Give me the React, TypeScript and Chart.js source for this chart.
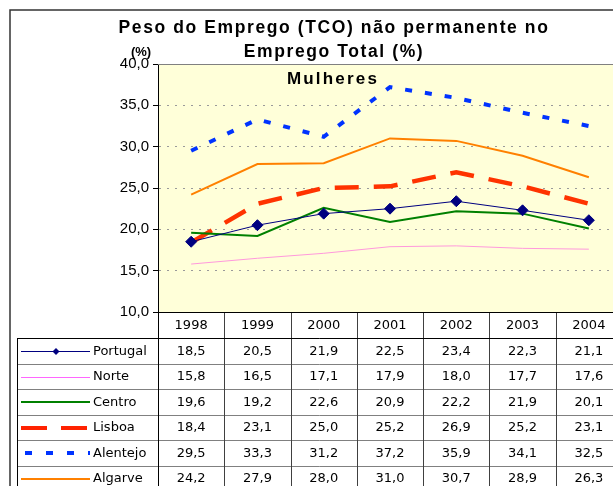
import React, { useEffect, useRef } from "react";
import { Chart, registerables } from "chart.js";

Chart.register(...registerables);

const years = ["1998", "1999", "2000", "2001", "2002", "2003", "2004"];
const portugal = [18.5, 20.5, 21.9, 22.5, 23.4, 22.3, 21.1];
const norte = [15.8, 16.5, 17.1, 17.9, 18.0, 17.7, 17.6];
const centro = [19.6, 19.2, 22.6, 20.9, 22.2, 21.9, 20.1];
const lisboa = [18.4, 23.1, 25.0, 25.2, 26.9, 25.2, 23.1];
const alentejo = [29.5, 33.3, 31.2, 37.2, 35.9, 34.1, 32.5];
const algarve = [24.2, 27.9, 28.0, 31.0, 30.7, 28.9, 26.3];
const seriesNames = ["Portugal", "Norte", "Centro", "Lisboa", "Alentejo", "Algarve"];
const yTicks = [10, 15, 20, 25, 30, 35, 40];
const titleLines = ["Peso do Emprego (TCO) não permanente no", "Emprego Total (%)"];
const unitLabel = "(%)";
const subtitleText = "Mulheres";

const fmt = (v: number) => v.toFixed(1).replace(".", ",");

const seriesStyles = [
  { color: "#000080", width: 1, dash: [] as number[], keyColor: "#000080", keyWidth: 1, keyDash: [] as number[] },
  { color: "#FF99DD", width: 1, dash: [], keyColor: "#FF66FF", keyWidth: 1, keyDash: [] },
  { color: "#008000", width: 2, dash: [], keyColor: "#008000", keyWidth: 2, keyDash: [] },
  { color: "#FF3300", width: 4.5, dash: [24, 15], keyColor: "#FF2200", keyWidth: 4, keyDash: [26, 14] },
  { color: "#0033FF", width: 4, dash: [7, 13], keyColor: "#0033FF", keyWidth: 4, keyDash: [7, 14] },
  { color: "#FF8000", width: 2, dash: [], keyColor: "#FF8000", keyWidth: 2, keyDash: [] },
];

const seriesValues = [portugal, norte, centro, lisboa, alentejo, algarve];

const decorPlugin = {
  id: "decor",
  beforeDraw(chart: any) {
    const { ctx, chartArea, width, height } = chart;
    ctx.save();
    ctx.fillStyle = "#FFFFFF";
    ctx.fillRect(0, 0, width, height);
    ctx.strokeStyle = "#333333";
    ctx.lineWidth = 1.5;
    ctx.strokeRect(10, 10, width + 50, height + 50);
    ctx.fillStyle = "#FFFFD9";
    ctx.fillRect(chartArea.left, chartArea.top, chartArea.right - chartArea.left, chartArea.bottom - chartArea.top);
    ctx.restore();
  },
  afterDraw(chart: any) {
    const { ctx, chartArea } = chart;
    const xs = chart.scales.x;
    const L = chartArea.left;
    const R = chartArea.right;
    const T = chartArea.top;
    const B = chartArea.bottom;
    ctx.save();
    // plot border (top/right)
    ctx.strokeStyle = "#808080";
    ctx.lineWidth = 1;
    ctx.beginPath();
    ctx.moveTo(L, T + 0.5);
    ctx.lineTo(R + 0.5, T + 0.5);
    ctx.lineTo(R + 0.5, B);
    ctx.stroke();

    // titles
    ctx.fillStyle = "#000";
    ctx.textAlign = "center";
    ctx.textBaseline = "alphabetic";
    ctx.font = 'bold 17.5px "Liberation Sans", Arial, sans-serif';
    (ctx as any).letterSpacing = "1.6px";
    ctx.fillText(titleLines[0], 334, 33);
    ctx.fillText(titleLines[1], 334, 57);
    ctx.font = 'bold 17px "Liberation Sans", Arial, sans-serif';
    (ctx as any).letterSpacing = "2.2px";
    ctx.fillText(subtitleText, 333, 83.5);
    ctx.font = 'bold 13px "Liberation Sans", Arial, sans-serif';
    (ctx as any).letterSpacing = "0px";
    ctx.fillText(unitLabel, 141, 55.5);

    // table
    const n = years.length;
    const colW = (R - L) / n;
    const headerTop = B;
    const headerBottom = B + 26;
    const rowH = 25.5;
    const legendLeft = 17.5;
    const tableBottom = headerBottom + rowH * seriesNames.length + 10;

    // row separators (gray)
    ctx.strokeStyle = "#808080";
    ctx.lineWidth = 1;
    for (let r = 1; r <= seriesNames.length; r++) {
      const y = Math.round(headerBottom + r * rowH) + 0.5;
      ctx.beginPath();
      ctx.moveTo(legendLeft, y);
      ctx.lineTo(R, y);
      ctx.stroke();
    }
    // column separators
    ctx.strokeStyle = "#404040";
    for (let i = 1; i <= n; i++) {
      const x = Math.round(L + i * colW) + 0.5;
      ctx.beginPath();
      ctx.moveTo(x, headerTop);
      ctx.lineTo(x, tableBottom);
      ctx.stroke();
    }
    // black lines
    ctx.strokeStyle = "#000";
    ctx.beginPath();
    ctx.moveTo(L, Math.round(headerTop) + 0.5);
    ctx.lineTo(R, Math.round(headerTop) + 0.5);
    ctx.moveTo(legendLeft, Math.round(headerBottom) + 0.5);
    ctx.lineTo(R, Math.round(headerBottom) + 0.5);
    ctx.moveTo(legendLeft, Math.round(headerBottom));
    ctx.lineTo(legendLeft, tableBottom);
    ctx.moveTo(Math.round(L) + 0.5, headerTop);
    ctx.lineTo(Math.round(L) + 0.5, tableBottom);
    ctx.stroke();

    // header text
    ctx.font = '13px "DejaVu Sans", Verdana, sans-serif';
    ctx.textAlign = "center";
    ctx.textBaseline = "middle";
    ctx.fillStyle = "#000";
    years.forEach((yr, i) => {
      ctx.fillText(yr, xs.getPixelForValue(i), (headerTop + headerBottom) / 2 + 0.5);
    });

    // rows
    seriesNames.forEach((name, r) => {
      const cy = headerBottom + (r + 0.5) * rowH + 0.5;
      const st = seriesStyles[r];
      ctx.textAlign = "center";
      seriesValues[r].forEach((v, i) => {
        ctx.fillText(fmt(v), xs.getPixelForValue(i), cy);
      });
      // legend key
      ctx.save();
      ctx.strokeStyle = st.keyColor;
      ctx.lineWidth = st.keyWidth;
      ctx.setLineDash(st.keyDash);
      ctx.beginPath();
      const ky = Math.round(cy) + (st.keyWidth % 2 === 1 ? 0.5 : 0);
      ctx.moveTo(r === 4 ? 25 : 21, ky);
      ctx.lineTo(90, ky);
      ctx.stroke();
      if (r === 0) {
        ctx.setLineDash([]);
        ctx.fillStyle = st.keyColor;
        ctx.beginPath();
        ctx.moveTo(56, ky - 3.5);
        ctx.lineTo(59.5, ky);
        ctx.lineTo(56, ky + 3.5);
        ctx.lineTo(52.5, ky);
        ctx.closePath();
        ctx.fill();
      }
      ctx.restore();
      ctx.textAlign = "left";
      ctx.fillText(name, 93, cy);
    });
    ctx.restore();
  },
};

export default function App() {
  const canvasRef = useRef<HTMLCanvasElement | null>(null);

  useEffect(() => {
    const canvas = canvasRef.current;
    if (!canvas) return;
    const chart = new Chart(canvas, {
      type: "line",
      data: {
        labels: years,
        datasets: seriesNames.map((name, i) => ({
          label: name,
          data: seriesValues[i],
          borderColor: seriesStyles[i].color,
          backgroundColor: seriesStyles[i].color,
          borderWidth: seriesStyles[i].width,
          borderDash: seriesStyles[i].dash,
          pointRadius: i === 0 ? 5.5 : 0,
          pointStyle: "rectRot",
          pointBackgroundColor: seriesStyles[i].color,
          pointBorderColor: seriesStyles[i].color,
          pointBorderWidth: 1,
          tension: 0,
          fill: false,
        })),
      },
      options: {
        responsive: false,
        animation: false,
        layout: { padding: { left: 98, top: 64, right: 18, bottom: 174 } },
        plugins: {
          legend: { display: false },
          title: { display: false },
          tooltip: { enabled: false },
        },
        scales: {
          x: { type: "category", offset: true, display: false },
          y: {
            min: 10,
            max: 40,
            afterBuildTicks: (scale: any) => {
              scale.ticks = yTicks.map((v) => ({ value: v }));
            },
            afterFit: (scale: any) => {
              scale.width = 60;
            },
            ticks: {
              color: "#000",
              padding: 4,
              font: { family: '"Liberation Sans", Arial, sans-serif', size: 15 },
              callback: (v: any) => fmt(Number(v)),
            },
            grid: {
              color: "#9A9A9A",
              lineWidth: 1,
              drawTicks: true,
              tickLength: 5,
              tickColor: "#000",
              tickBorderDash: [],
            },
            border: { display: true, color: "#000", width: 1, dash: [2, 6] },
          },
        },
      },
      plugins: [decorPlugin],
    } as any);
    return () => chart.destroy();
  }, []);

  return (
    <div style={{ position: "fixed", left: 0, top: 0, width: 613, height: 486, overflow: "hidden", background: "#fff" }}>
      <canvas ref={canvasRef} width={640} height={486} style={{ display: "block", width: 640, height: 486 }} />
    </div>
  );
}
